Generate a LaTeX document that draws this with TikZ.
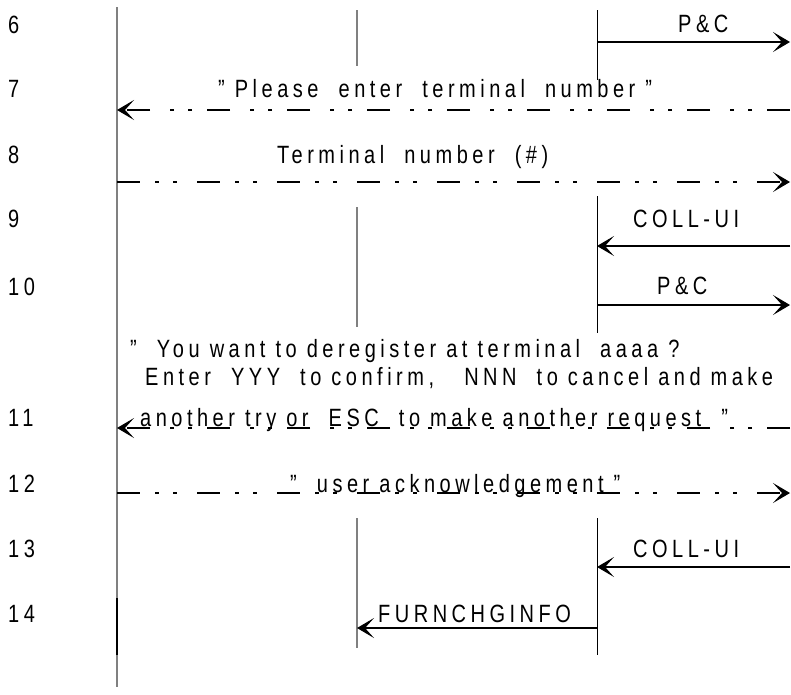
\documentclass[tikz,border=0pt]{standalone}
\usepackage{fontspec}
\setmainfont{Liberation Sans}[FakeStretch=0.8, LetterSpace=18]
\usetikzlibrary{arrows.meta}
\begin{document}
\begin{tikzpicture}[x=1pt,y=-1pt,
  every node/.style={font=\fontsize{25}{30}\selectfont, inner sep=0pt, anchor=base west},
  life/.style={draw=black!50, line width=1.5pt},
  lifeR/.style={draw=black, line width=1pt},
  msg/.style={draw=black, line width=1.1pt, -{Stealth[length=17pt,width=20pt,inset=9pt]}},
  dmsg/.style={msg, dash pattern=on 23pt off 15pt on 4pt off 14pt on 4pt off 20pt}]
\useasboundingbox (0,0) rectangle (791,694);
% lifeline coordinates
\coordinate (Ltop) at (117,7);   \coordinate (Lbot) at (117,687);
\coordinate (Lk1) at (117,598);  \coordinate (Lk2) at (117,655);
\coordinate (M1a) at (357,10);   \coordinate (M1b) at (357,66);
\coordinate (M2a) at (357,207);  \coordinate (M2b) at (357,327);
\coordinate (M3a) at (357,518);  \coordinate (M3b) at (357,648);
\coordinate (R1a) at (597,10);   \coordinate (R1b) at (597,80);
\coordinate (R2a) at (597,196);  \coordinate (R2b) at (597,333);
\coordinate (R3a) at (597,518);  \coordinate (R3b) at (597,655);
\draw[life] (Ltop) -- (Lbot);
\draw[black, line width=2.2pt] (Lk1) -- (Lk2);
\draw[life] (M1a) -- (M1b);
\draw[life] (M2a) -- (M2b);
\draw[life] (M3a) -- (M3b);
\draw[lifeR] (R1a) -- (R1b);
\draw[lifeR] (R2a) -- (R2b);
\draw[lifeR] (R3a) -- (R3b);
% message end points
\coordinate (R6) at (597,42);  \coordinate (E6) at (790,42);
\coordinate (E7) at (790,110); \coordinate (L7) at (117,110);
\coordinate (L8) at (117,182); \coordinate (E8) at (790,182);
\coordinate (E9) at (790,246); \coordinate (R9) at (597,246);
\coordinate (R10) at (597,305); \coordinate (E10) at (790,305);
\coordinate (E11) at (790,428); \coordinate (L11) at (117,428);
\coordinate (L12) at (117,493); \coordinate (E12) at (790,493);
\coordinate (E13) at (790,567); \coordinate (R13) at (597,567);
\coordinate (R14) at (597,628); \coordinate (M14) at (357,628);
\draw[msg] (R6) -- (E6);
\draw[dmsg] (E7) -- (L7);
\draw[dmsg] (L8) -- (E8);
\draw[msg] (E9) -- (R9);
\draw[msg] (R10) -- (E10);
\draw[dmsg] (E11) -- (L11);
\draw[dmsg] (L12) -- (E12);
\draw[msg] (E13) -- (R13);
\draw[msg] (R14) -- (M14);
% row numbers
\node (n6) at (8,33) {6};
\node (n7) at (8,97) {7};
\node (n8) at (8,163) {8};
\node (n9) at (8,227) {9};
\node (n10) at (8,295) {10};
\node (n11) at (8,426) {11};
\node (n12) at (8,492) {12};
\node (n13) at (8,557) {13};
\node (n14) at (8,622) {14};
% labels
\node (t6) at (678,32) {P\&C};
\node (t7) at (218,97) {" Please~ enter~ terminal~ number "};
\node (t8) at (277,163) {Terminal~ number~ (\#)};
\node (t9) at (633,227) {COLL-UI};
\node (t10) at (657,294) {P\&C};
\node (t11a) at (130,357) {"~ You want to deregister at terminal~ aaaa ?};
\node (t11b) at (145,385) {Enter~ YYY~ to confirm,~~ NNN~ to cancel and make};
\node (t11c) at (140,426) {another try or~ ESC~ to make another request~ "};
\node (t12) at (290,492) {"~ user acknowledgement "};
\node (t13) at (633,557) {COLL-UI};
\node (t14) at (378,622) {FURNCHGINFO};
\end{tikzpicture}
\end{document}
